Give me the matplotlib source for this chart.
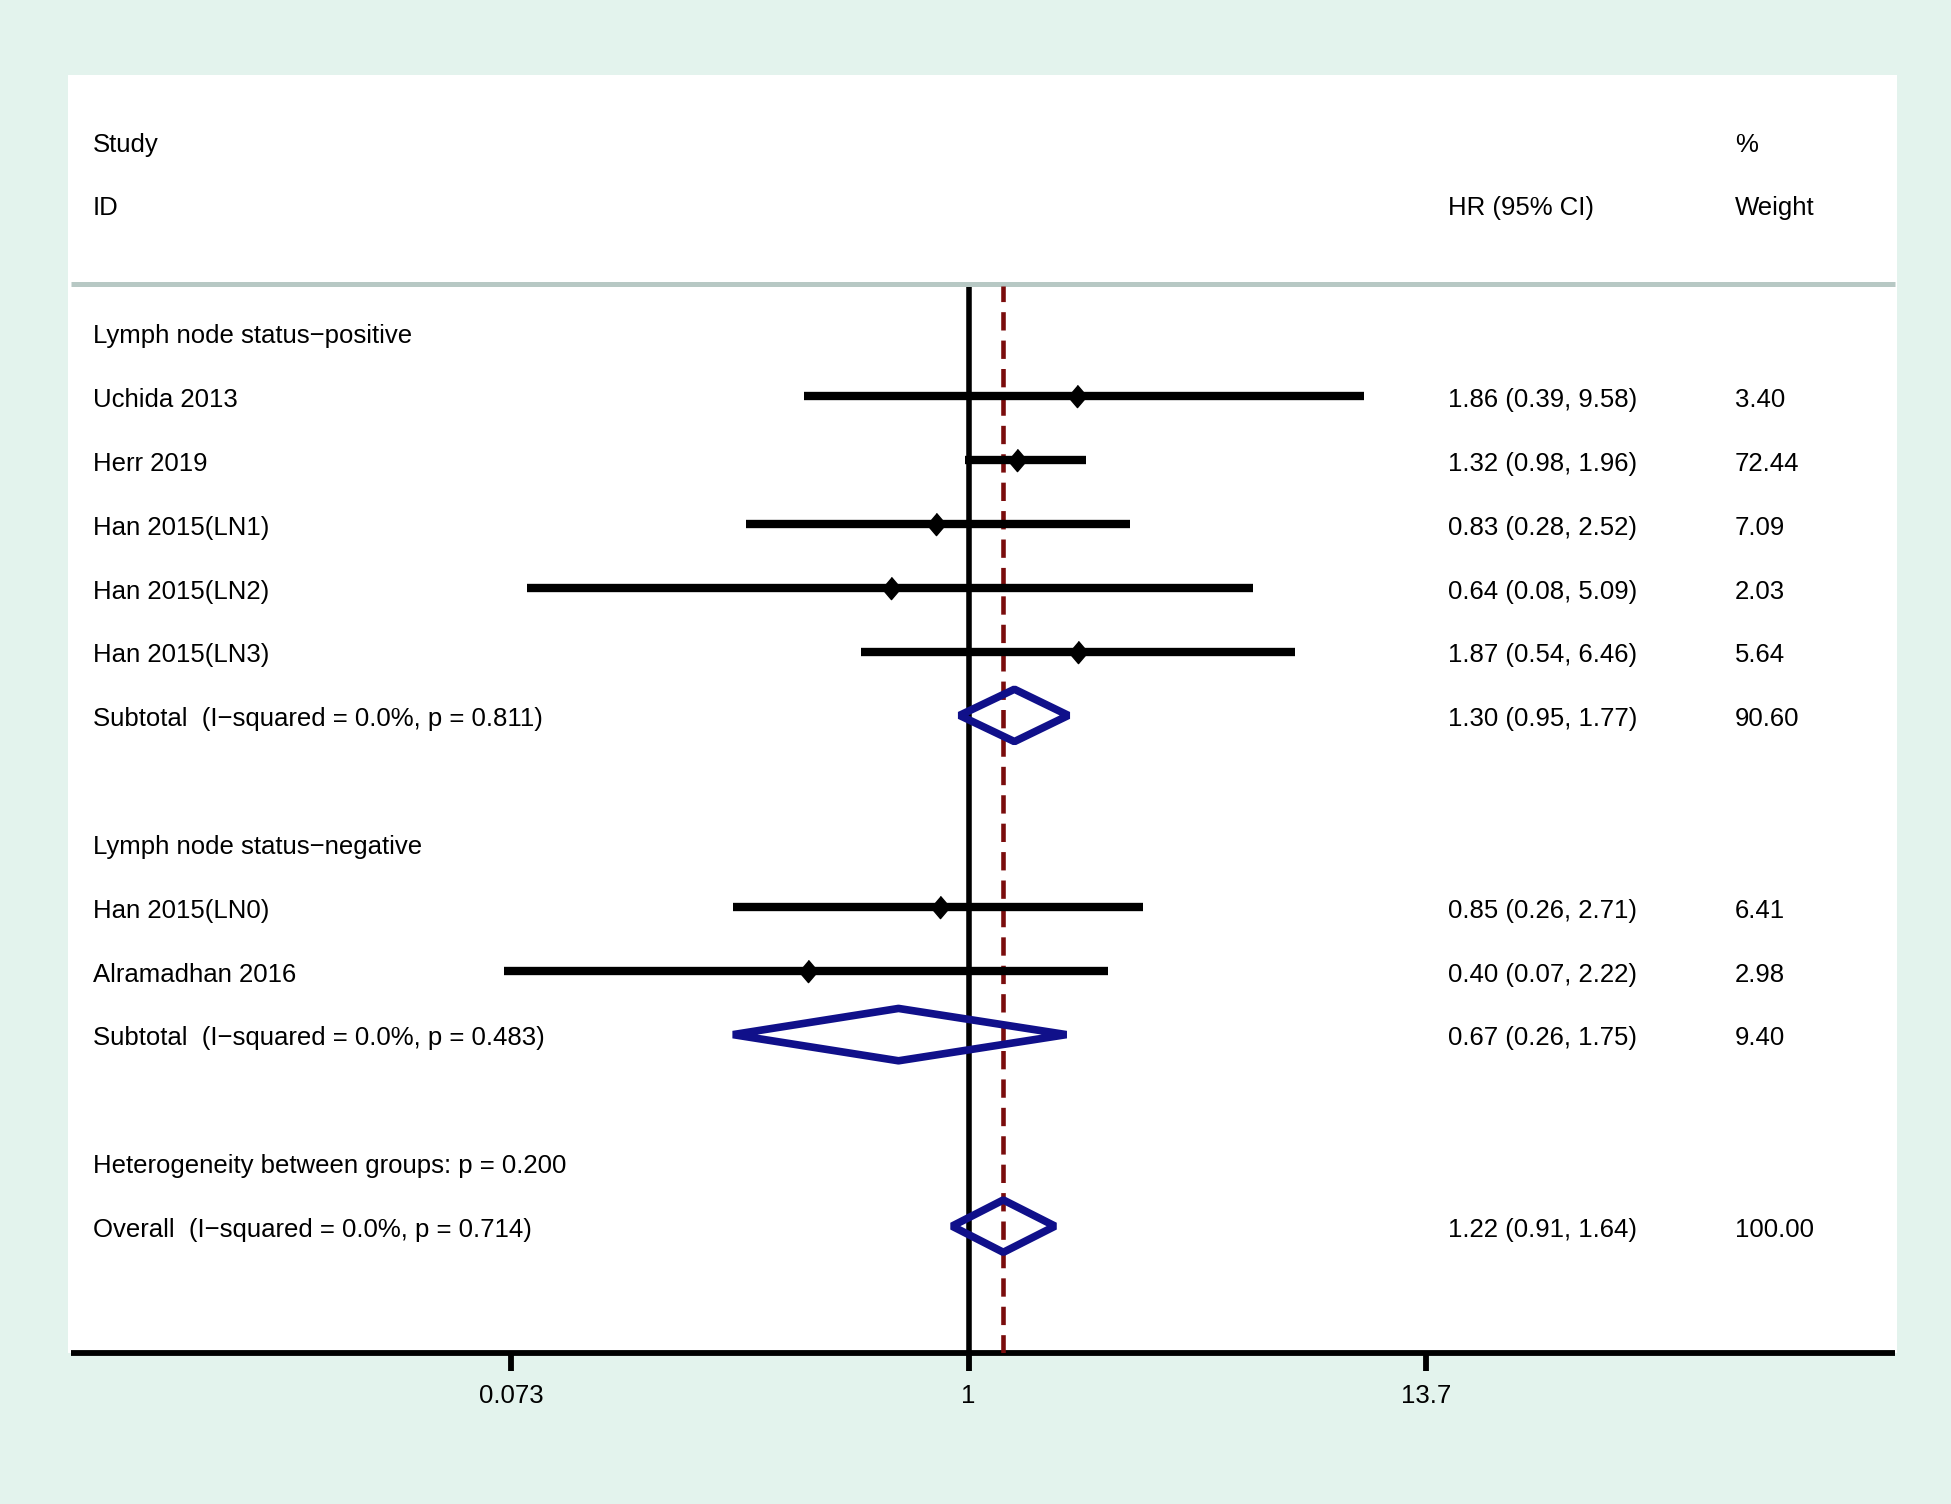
import numpy as np
import matplotlib
matplotlib.use('Agg')
import matplotlib.pyplot as plt
from matplotlib.patches import Polygon, Rectangle
from matplotlib.transforms import blended_transform_factory

plt.rcParams['font.family'] = ['Liberation Sans', 'DejaVu Sans']
FS = 18.5

# Study-level estimates
studies = ['Uchida 2013', 'Herr 2019', 'Han 2015(LN1)', 'Han 2015(LN2)',
           'Han 2015(LN3)', 'Han 2015(LN0)', 'Alramadhan 2016']
hr = [1.86, 1.32, 0.83, 0.64, 1.87, 0.85, 0.40]
lo = [0.39, 0.98, 0.28, 0.08, 0.54, 0.26, 0.07]
hi = [9.58, 1.96, 2.52, 5.09, 6.46, 2.71, 2.22]
weights = ['3.40', '72.44', '7.09', '2.03', '5.64', '6.41', '2.98']
study_rows = [1, 2, 3, 4, 5, 9, 10]

# Pooled estimates
pooled_labels = ['Subtotal  (I\u2212squared = 0.0%, p = 0.811)',
                 'Subtotal  (I\u2212squared = 0.0%, p = 0.483)',
                 'Overall  (I\u2212squared = 0.0%, p = 0.714)']
pooled_hr = [1.30, 0.67, 1.22]
pooled_lo = [0.95, 0.26, 0.91]
pooled_hi = [1.77, 1.75, 1.64]
pooled_weights = ['90.60', '9.40', '100.00']
pooled_rows = [6, 11, 14]

# Group headings / notes
group_labels = ['Lymph node status\u2212positive', 'Lymph node status\u2212negative',
                'Heterogeneity between groups: p = 0.200']
group_rows = [0, 8, 13]

overall_hr = 1.22
xticks = [0.073, 1, 13.7]
xtick_labels = ['0.073', '1', '13.7']

fig = plt.figure(figsize=(19.51, 15.04), dpi=100)
fig.patch.set_facecolor('#e3f3ed')
# white plot region
fig.patches.append(Rectangle((68 / 1951, 0.1007), (1897 - 68) / 1951, 0.8496,
                             transform=fig.transFigure, facecolor='white',
                             edgecolor='none', zorder=-5))

ax = fig.add_axes([0.0364, 0.1007, 0.9349, 0.8496])
ax.set_facecolor('none')
ax.set_xscale('log')
ax.set_xlim(0.0059, 200)
ax.set_ylim(15.98, -4.035)

for s in ['top', 'left', 'right']:
    ax.spines[s].set_visible(False)
ax.spines['bottom'].set_linewidth(4.2)
ax.spines['bottom'].set_capstyle('butt')
ax.set_yticks([])
ax.set_xticks(xticks)
ax.set_xticklabels(xtick_labels, fontsize=FS)
ax.minorticks_off()
ax.tick_params(axis='x', direction='out', length=13, width=4.2, pad=10)

# reference lines
ax.plot([1, 1], [15.98, -0.72], color='black', lw=4, zorder=2)
ax.plot([overall_hr, overall_hr], [15.98, -0.72], color='#7a0c0c', lw=3.3,
        dashes=(4, 2.2), zorder=3)

# separator under header
trans = blended_transform_factory(ax.transAxes, ax.transData)
ax.plot([0, 1], [-0.76, -0.76], transform=trans, color='#b7c8c4', lw=3.6,
        clip_on=False, solid_capstyle='butt')

XL, XH, XW = 0.0118, 0.7547, 0.9123
DY = 0.06  # text baseline nudge

# headers
ax.text(XL, -3 + DY, 'Study', transform=trans, fontsize=FS, va='center')
ax.text(XL, -2 + DY, 'ID', transform=trans, fontsize=FS, va='center')
ax.text(XH, -2 + DY, 'HR (95% CI)', transform=trans, fontsize=FS, va='center')
ax.text(XW, -3 + DY, '%', transform=trans, fontsize=FS, va='center')
ax.text(XW, -2 + DY, 'Weight', transform=trans, fontsize=FS, va='center')

diamond = [(0, 1), (0.85, 0), (0, -1), (-0.85, 0)]

# study rows
for name, h, l, u, w, r in zip(studies, hr, lo, hi, weights, study_rows):
    ax.plot([l, u], [r, r], color='black', lw=6, solid_capstyle='butt', zorder=4)
    ax.plot([h], [r], marker=diamond, markersize=16, color='black', zorder=5)
    ax.text(XL, r + DY, name, transform=trans, fontsize=FS, va='center')
    ax.text(XH, r + DY, f'{h:.2f} ({l:.2f}, {u:.2f})', transform=trans,
            fontsize=FS, va='center')
    ax.text(XW, r + DY, w, transform=trans, fontsize=FS, va='center')

# pooled diamonds
for name, h, l, u, w, r in zip(pooled_labels, pooled_hr, pooled_lo, pooled_hi,
                               pooled_weights, pooled_rows):
    poly = Polygon([(l, r), (h, r - 0.41), (u, r), (h, r + 0.41)], closed=True,
                   facecolor='none', edgecolor='#10108a', lw=5.5,
                   joinstyle='bevel', zorder=6)
    ax.add_patch(poly)
    ax.text(XL, r + DY, name, transform=trans, fontsize=FS, va='center')
    ax.text(XH, r + DY, f'{h:.2f} ({l:.2f}, {u:.2f})', transform=trans,
            fontsize=FS, va='center')
    ax.text(XW, r + DY, w, transform=trans, fontsize=FS, va='center')

for name, r in zip(group_labels, group_rows):
    ax.text(XL, r + DY, name, transform=trans, fontsize=FS, va='center')

fig.savefig('out.png', dpi=100, facecolor=fig.get_facecolor())
